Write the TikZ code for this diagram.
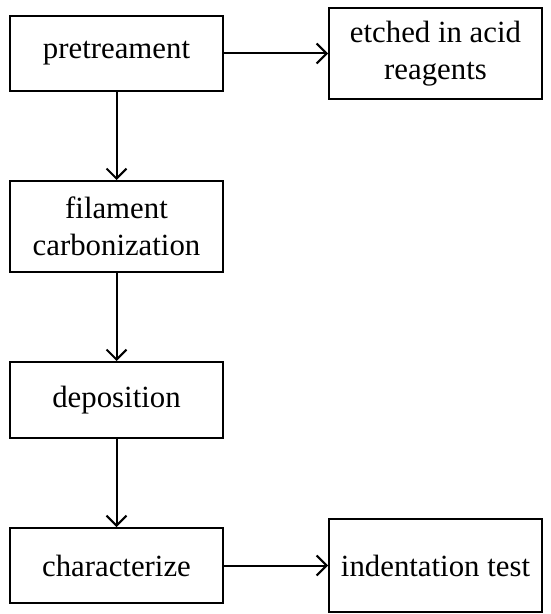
\documentclass[tikz,border=0pt]{standalone}
\usepackage{fontspec}
\setmainfont{Liberation Serif}
\usepackage{tikz}
\usetikzlibrary{shapes, arrows.meta, positioning}

\begin{document}
\begin{tikzpicture}[node distance=44pt and 52pt, font=\fontsize{15.4pt}{18.5pt}\selectfont,
    stepbox/.style={draw, rectangle, line width=1pt, align=center, minimum width=106.5pt, minimum height=37.5pt},
    flow/.style={draw, line width=1pt, arrows={-Straight Barb[length=5pt,width=10pt,line width=1pt]}}]
        \useasboundingbox (0,0) rectangle (275pt,-307pt);
        \node[stepbox] (pre) at (58.25pt,-26.75pt) {pretreament};
        \node[stepbox, right=of pre, minimum height=45.5pt] (etch) {etched in acid\\reagents};
        \node[stepbox, below=of pre, minimum height=45.5pt] (carb) {filament\\carbonization};
        \node[stepbox, below=of carb, minimum height=38pt] (depo) {deposition};
        \node[stepbox, below=of depo] (char) {characterize};
        \node[stepbox, right=of char, minimum height=46.5pt] (indent) {indentation test};
        \draw[flow] (pre) -- (etch);
        \draw[flow] (pre) -- (carb);
        \draw[flow] (carb) -- (depo);
        \draw[flow] (depo) -- (char);
        \draw[flow] (char) -- (indent);
    \end{tikzpicture}
\end{document}
